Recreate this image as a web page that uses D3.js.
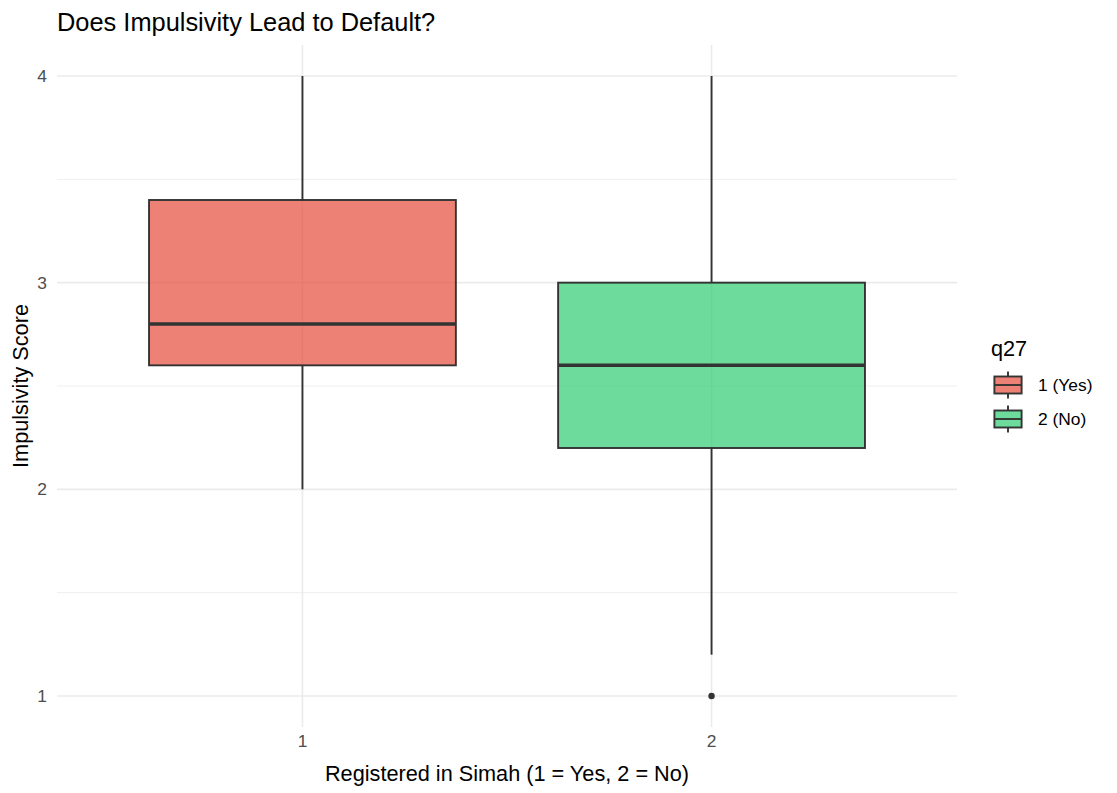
<!DOCTYPE html>
<html>
<head>
<meta charset="utf-8">
<script src="https://cdn.jsdelivr.net/npm/d3@7"></script>
<style>
  body { margin: 0; background: #fff; }
  text { font-family: "Liberation Sans", Arial, sans-serif; }
</style>
</head>
<body>
<script>
// values
const groups = ["1", "2"];
const legendLabels = ["1 (Yes)", "2 (No)"];
const fills = ["#E74C3C", "#2ECC71"];
const whiskerLow = [2.0, 1.2];
const q1 = [2.6, 2.2];
const median = [2.8, 2.6];
const q3 = [3.4, 3.0];
const whiskerHigh = [4.0, 4.0];
const outliers = [[], [1.0]];
const yTicks = [1, 2, 3, 4];
const yMinor = [1.5, 2.5, 3.5];

const W = 1117, H = 793;
const panel = { left: 57, right: 957, top: 45, bottom: 727 };
const lineW = 1.9;

const svg = d3.select("body").append("svg")
  .attr("width", W).attr("height", H);

const y = d3.scaleLinear().domain([0.85, 4.15]).range([panel.bottom, panel.top]);
const x = d3.scaleBand().domain(groups)
  .range([panel.left, panel.right]).paddingOuter(0.1).paddingInner(0);
const cx = g => x(g) + x.bandwidth() / 2;
const boxW = x.bandwidth() * 0.75;

// grid
const grid = svg.append("g");
grid.selectAll(".minor").data(yMinor).enter().append("line")
  .attr("x1", panel.left).attr("x2", panel.right)
  .attr("y1", d => y(d)).attr("y2", d => y(d))
  .attr("stroke", "#EBEBEB").attr("stroke-width", 0.8);
grid.selectAll(".major").data(yTicks).enter().append("line")
  .attr("x1", panel.left).attr("x2", panel.right)
  .attr("y1", d => y(d)).attr("y2", d => y(d))
  .attr("stroke", "#EBEBEB").attr("stroke-width", 1.6);
grid.selectAll(".vmajor").data(groups).enter().append("line")
  .attr("x1", d => cx(d)).attr("x2", d => cx(d))
  .attr("y1", panel.top).attr("y2", panel.bottom)
  .attr("stroke", "#EBEBEB").attr("stroke-width", 1.6);

// boxes
const box = svg.selectAll(".box").data(groups).enter().append("g");
box.append("line")
  .attr("x1", d => cx(d)).attr("x2", d => cx(d))
  .attr("y1", (d, i) => y(whiskerHigh[i])).attr("y2", (d, i) => y(q3[i]))
  .attr("stroke", "#333333").attr("stroke-width", lineW);
box.append("line")
  .attr("x1", d => cx(d)).attr("x2", d => cx(d))
  .attr("y1", (d, i) => y(q1[i])).attr("y2", (d, i) => y(whiskerLow[i]))
  .attr("stroke", "#333333").attr("stroke-width", lineW);
box.append("rect")
  .attr("x", d => cx(d) - boxW / 2).attr("width", boxW)
  .attr("y", (d, i) => y(q3[i])).attr("height", (d, i) => y(q1[i]) - y(q3[i]))
  .attr("fill", (d, i) => fills[i]).attr("fill-opacity", 0.7)
  .attr("stroke", "#333333").attr("stroke-width", lineW);
box.append("line")
  .attr("x1", d => cx(d) - boxW / 2).attr("x2", d => cx(d) + boxW / 2)
  .attr("y1", (d, i) => y(median[i])).attr("y2", (d, i) => y(median[i]))
  .attr("stroke", "#333333").attr("stroke-width", 3.5);
box.each(function (d, i) {
  d3.select(this).selectAll("circle").data(outliers[i]).enter().append("circle")
    .attr("cx", cx(d)).attr("cy", v => y(v)).attr("r", 3.2)
    .attr("fill", "#333333");
});

// axes
const yAxis = svg.append("g").attr("transform", `translate(${panel.left - 10},0)`)
  .call(d3.axisLeft(y).tickValues(yTicks).tickSize(0).tickPadding(0).tickFormat(d3.format("d")));
yAxis.select(".domain").remove();
yAxis.selectAll("text").attr("fill", "#4D4D4D").style("font-size", "17.4px")
  .style("font-family", "'Liberation Sans', Arial, sans-serif");

const xAxis = svg.append("g").attr("transform", `translate(0,${panel.bottom + 8})`)
  .call(d3.axisBottom(x).tickSize(0).tickPadding(0));
xAxis.select(".domain").remove();
xAxis.selectAll("text").attr("fill", "#4D4D4D").style("font-size", "17.4px")
  .style("font-family", "'Liberation Sans', Arial, sans-serif");

// titles
svg.append("text").attr("x", 57).attr("y", 31)
  .style("font-size", "25.4px").attr("fill", "#000")
  .text("Does Impulsivity Lead to Default?");
svg.append("text").attr("x", (panel.left + panel.right) / 2).attr("y", 781)
  .attr("text-anchor", "middle").style("font-size", "21.7px").attr("fill", "#000")
  .text("Registered in Simah (1 = Yes, 2 = No)");
svg.append("text").attr("transform", `translate(28,${(panel.top + panel.bottom) / 2}) rotate(-90)`)
  .attr("text-anchor", "middle").style("font-size", "21.7px").attr("fill", "#000")
  .text("Impulsivity Score");

// legend
const lg = svg.append("g").attr("transform", "translate(991,0)");
lg.append("text").attr("x", 0).attr("y", 356).style("font-size", "21.7px").attr("fill", "#000").text("q27");
const keyH = 34, keyW = 34, key0 = 368;
const item = lg.selectAll(".item").data(legendLabels).enter().append("g")
  .attr("transform", (d, i) => `translate(0,${key0 + i * keyH})`);
item.append("line").attr("x1", keyW / 2).attr("x2", keyW / 2)
  .attr("y1", keyH * 0.1).attr("y2", keyH * 0.9)
  .attr("stroke", "#333333").attr("stroke-width", lineW);
item.append("rect").attr("x", keyW * 0.1).attr("width", keyW * 0.8)
  .attr("y", keyH * 0.25).attr("height", keyH * 0.5)
  .attr("fill", "#fff").attr("stroke", "none");
item.append("rect").attr("x", keyW * 0.1).attr("width", keyW * 0.8)
  .attr("y", keyH * 0.25).attr("height", keyH * 0.5)
  .attr("fill", (d, i) => fills[i]).attr("fill-opacity", 0.7)
  .attr("stroke", "#333333").attr("stroke-width", lineW);
item.append("line").attr("x1", keyW * 0.1).attr("x2", keyW * 0.9)
  .attr("y1", keyH / 2).attr("y2", keyH / 2)
  .attr("stroke", "#333333").attr("stroke-width", lineW);
item.append("text").attr("x", 47).attr("y", keyH / 2 + 6.2)
  .style("font-size", "17.4px").attr("fill", "#000").text(d => d);
</script>
</body>
</html>
